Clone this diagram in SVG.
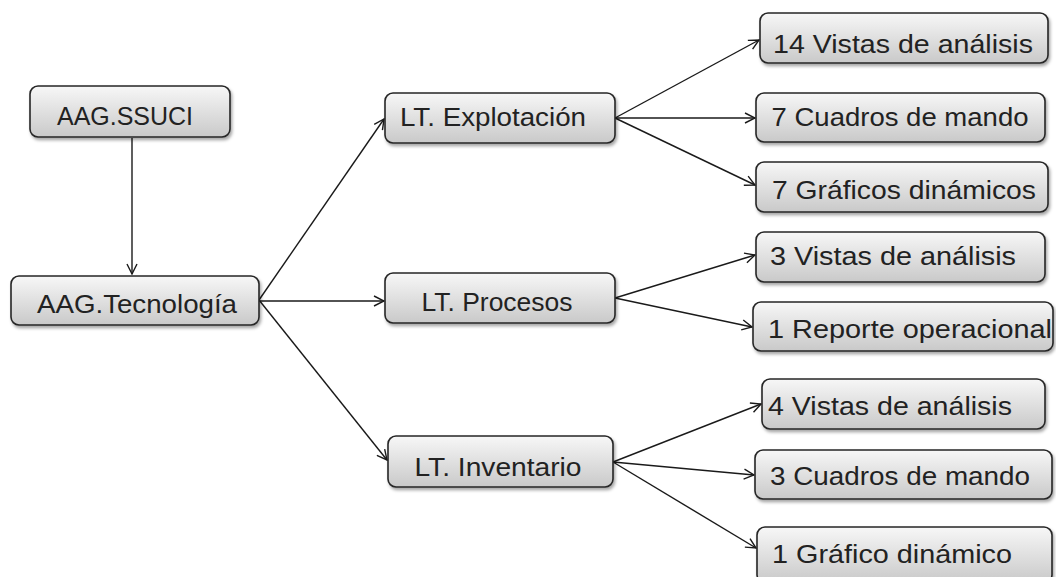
<svg xmlns="http://www.w3.org/2000/svg" width="1056" height="577" viewBox="0 0 1056 577">
  <style>
    .box { fill: url(#boxFill); stroke: #262626; stroke-width: 1.6; filter: url(#shadow); }
    .lbl { font-family: "Liberation Sans", Arial, sans-serif; font-size: 25px; fill: #222; text-anchor: middle; }
    .edge { stroke: #1a1a1a; stroke-width: 1.4; fill: none; marker-end: url(#arrow); }
  </style>
  <defs>
    <linearGradient id="boxFill" x1="0" y1="0" x2="0" y2="1">
      <stop offset="0" stop-color="#f7f7f7"/>
      <stop offset="1" stop-color="#c9c9c9"/>
    </linearGradient>
    <filter id="shadow" x="-10%" y="-20%" width="120%" height="150%">
      <feDropShadow dx="1.5" dy="2.5" stdDeviation="1.5" flood-color="#000" flood-opacity="0.35"/>
    </filter>
    <marker id="arrow" viewBox="0 0 12 12" refX="11" refY="6" markerWidth="12" markerHeight="12" markerUnits="userSpaceOnUse" orient="auto">
      <path d="M1,1 L11,6 L1,11" fill="none" stroke="#1a1a1a" stroke-width="1.4"/>
    </marker>
  </defs>

  <g id="connectors">
    <line class="edge" x1="132" y1="138" x2="132" y2="274"/>
    <line class="edge" x1="259" y1="300" x2="384" y2="119"/>
    <line class="edge" x1="259" y1="301" x2="384" y2="301"/>
    <line class="edge" x1="259" y1="300" x2="387" y2="460"/>
    <line class="edge" x1="615" y1="118" x2="759" y2="40"/>
    <line class="edge" x1="615" y1="118" x2="755" y2="118"/>
    <line class="edge" x1="615" y1="118" x2="755" y2="185"/>
    <line class="edge" x1="615" y1="298" x2="755" y2="255"/>
    <line class="edge" x1="615" y1="298" x2="752" y2="327"/>
    <line class="edge" x1="613" y1="462" x2="761" y2="404"/>
    <line class="edge" x1="613" y1="462" x2="754" y2="475"/>
    <line class="edge" x1="613" y1="462" x2="756" y2="548"/>
  </g>

  <g id="aag-ssuci">
    <rect class="box" x="30" y="86" width="200" height="51" rx="8"/>
    <text class="lbl" x="125" y="125" textLength="136" lengthAdjust="spacingAndGlyphs">AAG.SSUCI</text>
  </g>
  <g id="aag-tecnologia">
    <rect class="box" x="11" y="276" width="248" height="49" rx="8"/>
    <text class="lbl" x="137" y="313" textLength="200" lengthAdjust="spacingAndGlyphs">AAG.Tecnología</text>
  </g>

  <g id="lt-explotacion">
    <rect class="box" x="385" y="93" width="230" height="50" rx="8"/>
    <text class="lbl" x="493" y="126" textLength="186" lengthAdjust="spacingAndGlyphs">LT. Explotación</text>
  </g>
  <g id="lt-procesos">
    <rect class="box" x="385" y="273" width="230" height="50" rx="8"/>
    <text class="lbl" x="497" y="311" textLength="151" lengthAdjust="spacingAndGlyphs">LT. Procesos</text>
  </g>
  <g id="lt-inventario">
    <rect class="box" x="388" y="436" width="225" height="51" rx="8"/>
    <text class="lbl" x="498" y="476" textLength="167" lengthAdjust="spacingAndGlyphs">LT. Inventario</text>
  </g>

  <g id="exp-vistas">
    <rect class="box" x="760" y="13" width="288" height="50" rx="8"/>
    <text class="lbl" x="903" y="53" textLength="260" lengthAdjust="spacingAndGlyphs">14 Vistas de análisis</text>
  </g>
  <g id="exp-cuadros">
    <rect class="box" x="756" y="93" width="289" height="49" rx="8"/>
    <text class="lbl" x="900" y="126" textLength="257" lengthAdjust="spacingAndGlyphs">7 Cuadros de mando</text>
  </g>
  <g id="exp-graficos">
    <rect class="box" x="756" y="162" width="292" height="50" rx="8"/>
    <text class="lbl" x="904" y="199" textLength="264" lengthAdjust="spacingAndGlyphs">7 Gráficos dinámicos</text>
  </g>

  <g id="pro-vistas">
    <rect class="box" x="756" y="232" width="289" height="50" rx="8"/>
    <text class="lbl" x="893" y="265" textLength="246" lengthAdjust="spacingAndGlyphs">3 Vistas de análisis</text>
  </g>
  <g id="pro-reporte">
    <rect class="box" x="753" y="302" width="300" height="49" rx="8"/>
    <text class="lbl" x="910" y="338" textLength="284" lengthAdjust="spacingAndGlyphs">1 Reporte operacional</text>
  </g>

  <g id="inv-vistas">
    <rect class="box" x="762" y="379" width="283" height="50" rx="8"/>
    <text class="lbl" x="890" y="415" textLength="244" lengthAdjust="spacingAndGlyphs">4 Vistas de análisis</text>
  </g>
  <g id="inv-cuadros">
    <rect class="box" x="755" y="450" width="297" height="49" rx="8"/>
    <text class="lbl" x="900" y="485" textLength="260" lengthAdjust="spacingAndGlyphs">3 Cuadros de mando</text>
  </g>
  <g id="inv-grafico">
    <rect class="box" x="757" y="527" width="295" height="56" rx="8"/>
    <text class="lbl" x="892" y="563" textLength="240" lengthAdjust="spacingAndGlyphs">1 Gráfico dinámico</text>
  </g>
</svg>
